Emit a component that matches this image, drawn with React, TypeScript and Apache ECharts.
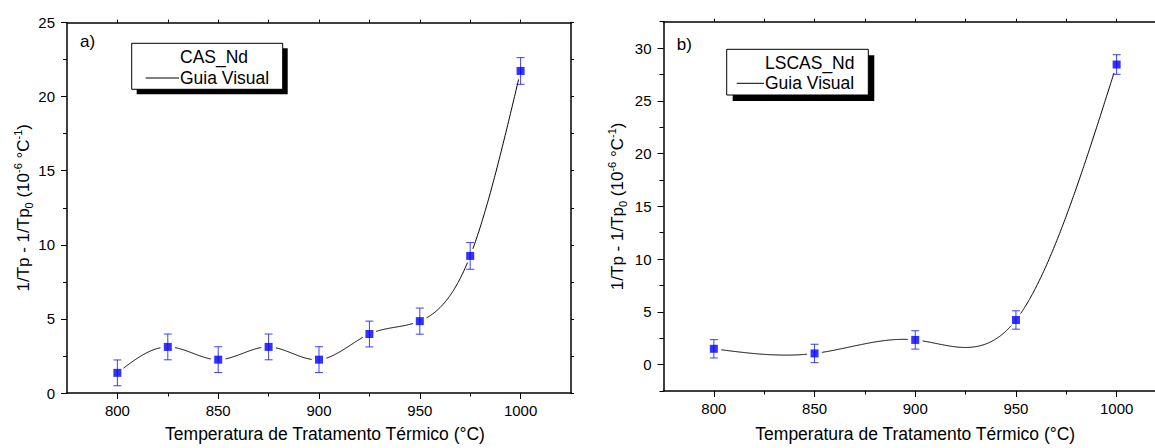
import React, { useEffect, useRef } from "react";
import * as echarts from "echarts";

// ---------- data ----------
const tempsA = [800, 825, 850, 875, 900, 925, 950, 975, 1000];
const valuesA = [1.36, 3.11, 2.25, 3.11, 2.25, 3.98, 4.85, 9.25, 21.73];
const errorsA = [0.87, 0.87, 0.87, 0.87, 0.87, 0.87, 0.88, 0.9, 0.9];

const tempsB = [800, 850, 900, 950, 1000];
const valuesB = [1.5, 1.06, 2.34, 4.23, 28.44];
const errorsB = [0.87, 0.87, 0.87, 0.87, 0.93];

const xMajorTicks = [800, 850, 900, 950, 1000];
const xMinorTicks = [825, 875, 925, 975];
const xFrameTicks = [800, 825, 850, 875, 900, 925, 950, 975, 1000];
const yMajorTicksA = [0, 5, 10, 15, 20, 25];
const yMinorTicksA = [2.5, 7.5, 12.5, 17.5, 22.5];
const yFrameTicksA = [0, 2.5, 5, 7.5, 10, 12.5, 15, 17.5, 20, 22.5, 25];
const yMajorTicksB = [0, 5, 10, 15, 20, 25, 30];
const yMinorTicksB = [-2.5, 2.5, 7.5, 12.5, 17.5, 22.5, 27.5, 32.5];

const xTitle = "Temperatura de Tratamento Térmico (°C)";
const yTitle = "{b|1/Tp - 1/Tp}{s|0}{b| (10}{p|-6}{b| °C}{p|-1}{b|)}";

const FONT = '"Liberation Sans", Arial, sans-serif';
const BLUE = "#0000ff";
const ERR_COLOR = "rgba(30,30,255,0.85)";

// ---------- helpers ----------
function naturalSpline(xs: number[], ys: number[]) {
  const n = xs.length;
  const h: number[] = [];
  for (let i = 0; i < n - 1; i++) h.push(xs[i + 1] - xs[i]);
  const a = new Array(n).fill(0);
  const b = new Array(n).fill(1);
  const c = new Array(n).fill(0);
  const d = new Array(n).fill(0);
  for (let i = 1; i < n - 1; i++) {
    a[i] = h[i - 1];
    b[i] = 2 * (h[i - 1] + h[i]);
    c[i] = h[i];
    d[i] = 6 * ((ys[i + 1] - ys[i]) / h[i] - (ys[i] - ys[i - 1]) / h[i - 1]);
  }
  for (let i = 1; i < n; i++) {
    const m = a[i] / b[i - 1];
    b[i] -= m * c[i - 1];
    d[i] -= m * d[i - 1];
  }
  const M = new Array(n).fill(0);
  M[n - 1] = d[n - 1] / b[n - 1];
  for (let i = n - 2; i >= 0; i--) M[i] = (d[i] - c[i] * M[i + 1]) / b[i];
  return (x: number) => {
    let i = 0;
    while (i < n - 2 && x > xs[i + 1]) i++;
    const hi = h[i];
    const A = xs[i + 1] - x;
    const B = x - xs[i];
    return (
      (M[i] * A * A * A) / (6 * hi) +
      (M[i + 1] * B * B * B) / (6 * hi) +
      (ys[i] / hi - (M[i] * hi) / 6) * A +
      (ys[i + 1] / hi - (M[i + 1] * hi) / 6) * B
    );
  };
}

function curveSeries(xs: number[], ys: number[], xi: number, yi: number) {
  return {
    type: "custom",
    xAxisIndex: xi,
    yAxisIndex: yi,
    silent: true,
    z: 2,
    data: xs.map((x, i) => [x, ys[i]]),
    encode: { x: 0, y: 1 },
    renderItem: (params: any, api: any) => {
      if (params.dataIndex !== 0) return { type: "group", children: [] };
      const f = naturalSpline(xs, ys);
      const centers = xs.map((x, i) => api.coord([x, ys[i]]));
      const GAP = 7;
      const segs: number[][][] = [];
      let cur: number[][] = [];
      const N = 600;
      for (let k = 0; k <= N; k++) {
        const x = xs[0] + ((xs[xs.length - 1] - xs[0]) * k) / N;
        const p = api.coord([x, f(x)]);
        const near = centers.some(
          (c: number[]) => Math.hypot(p[0] - c[0], p[1] - c[1]) < GAP
        );
        if (near) {
          if (cur.length > 1) segs.push(cur);
          cur = [];
        } else cur.push(p);
      }
      if (cur.length > 1) segs.push(cur);
      return {
        type: "group",
        children: segs.map((pts) => ({
          type: "polyline",
          shape: { points: pts },
          style: { stroke: "#000", lineWidth: 1, fill: null },
        })),
      };
    },
  };
}

function errorSeries(xs: number[], ys: number[], es: number[], xi: number, yi: number) {
  return {
    type: "custom",
    xAxisIndex: xi,
    yAxisIndex: yi,
    silent: true,
    z: 3,
    data: xs.map((x, i) => [x, ys[i], es[i]]),
    encode: { x: 0, y: 1 },
    renderItem: (params: any, api: any) => {
      const x = api.value(0);
      const y = api.value(1);
      const e = api.value(2);
      const top = api.coord([x, y + e]);
      const bot = api.coord([x, y - e]);
      const cap = 4;
      const st = { stroke: ERR_COLOR, lineWidth: 1 };
      return {
        type: "group",
        children: [
          { type: "line", shape: { x1: top[0], y1: top[1], x2: bot[0], y2: bot[1] }, style: st },
          { type: "line", shape: { x1: top[0] - cap, y1: top[1], x2: top[0] + cap, y2: top[1] }, style: st },
          { type: "line", shape: { x1: bot[0] - cap, y1: bot[1], x2: bot[0] + cap, y2: bot[1] }, style: st },
        ],
      };
    },
  };
}

function pointSeries(xs: number[], ys: number[], xi: number, yi: number) {
  return {
    type: "scatter",
    xAxisIndex: xi,
    yAxisIndex: yi,
    silent: true,
    z: 4,
    symbol: "rect",
    symbolSize: 8,
    itemStyle: { color: BLUE },
    data: xs.map((x, i) => [x, ys[i]]),
  };
}

const lineStyle = { color: "#000", width: 1.5 };
const tickStyle = { color: "#000", width: 1 };

function baseAxis(grid: number, min: number, max: number, position: string) {
  return {
    type: "value",
    gridIndex: grid,
    min,
    max,
    position,
    splitLine: { show: false },
    axisLine: { show: false, onZero: false, lineStyle },
    axisTick: { show: false },
    axisLabel: { show: false },
  };
}

function majorAxis(
  grid: number, min: number, max: number, position: string, ticks: number[],
  name: string, nameGap: number, margin: number, isY: boolean, padding?: number[]
) {
  const ax: any = baseAxis(grid, min, max, position);
  ax.axisLine = { show: true, onZero: false, lineStyle };
  ax.axisTick = { show: true, inside: false, length: 6, customValues: ticks, lineStyle: tickStyle };
  ax.axisLabel = {
    show: true, customValues: ticks, fontSize: 15, color: "#000", fontFamily: FONT, margin,
    formatter: (v: number) => String(v),
  };
  ax.name = name;
  ax.nameLocation = "middle";
  ax.nameGap = nameGap;
  if (isY) {
    ax.nameTextStyle = {
      color: "#000",
      fontFamily: FONT,
      fontSize: 17,
      rich: {
        b: { fontSize: 17, fontFamily: FONT, color: "#000", lineHeight: 22 },
        p: { fontSize: 11, fontFamily: FONT, color: "#000", lineHeight: 11, verticalAlign: "top" },
        s: { fontSize: 11, fontFamily: FONT, color: "#000", lineHeight: 11, verticalAlign: "bottom" },
      },
    };
  } else {
    ax.nameTextStyle = { color: "#000", fontFamily: FONT, fontSize: 17.5, padding: padding || 0 };
  }
  return ax;
}

function tickAxis(grid: number, min: number, max: number, position: string, ticks: number[], len: number, showLine: boolean) {
  const ax: any = baseAxis(grid, min, max, position);
  ax.axisLine = { show: showLine, onZero: false, lineStyle };
  ax.axisTick = { show: true, inside: false, length: len, customValues: ticks, lineStyle: tickStyle };
  return ax;
}

function legendGraphic(x: number, y: number, w: number, h: number, sh: number, textX: number, lineX1: number, row1: number, row2: number, label: string) {
  const font = { fontSize: 17.5, fontFamily: FONT, fill: "#000", verticalAlign: "middle" };
  return [
    { type: "rect", shape: { x: x + sh, y: y + sh, width: w, height: h }, style: { fill: "#000" }, z: 10 },
    { type: "rect", shape: { x, y, width: w, height: h }, style: { fill: "#fff", stroke: "#000", lineWidth: 1 }, z: 11 },
    { type: "text", x: textX, y: row1, style: { text: label, ...font }, z: 12 },
    { type: "line", shape: { x1: lineX1, y1: row2, x2: textX - 1, y2: row2 }, style: { stroke: "#000", lineWidth: 1 }, z: 12 },
    { type: "text", x: textX, y: row2, style: { text: "Guia Visual", ...font }, z: 12 },
  ];
}

export default function App() {
  const ref = useRef<HTMLDivElement>(null);
  useEffect(() => {
    if (!ref.current) return;
    const chart = echarts.init(ref.current, undefined, { renderer: "svg" });
    const option: any = {
      animation: false,
      backgroundColor: "#fff",
      grid: [
        { left: 67, top: 22.5, width: 504, height: 375.5 },
        { left: 663.5, top: 21.7, width: 503.5, height: 375 },
      ],
      xAxis: [
        majorAxis(0, 775, 1025, "bottom", xMajorTicks, xTitle, 32, 10, false, [0, 0, 0, 12]),
        tickAxis(0, 775, 1025, "bottom", xMinorTicks, 3.5, false),
        tickAxis(0, 775, 1025, "top", xFrameTicks, 3, true),
        majorAxis(1, 775, 1025, "bottom", xMajorTicks, xTitle, 34, 10, false),
        tickAxis(1, 775, 1025, "bottom", xMinorTicks, 3.5, false),
        tickAxis(1, 775, 1025, "top", xFrameTicks, 3, true),
      ],
      yAxis: [
        majorAxis(0, 0, 25, "left", yMajorTicksA, yTitle, 33, 12, true),
        tickAxis(0, 0, 25, "left", yMinorTicksA, 4, false),
        tickAxis(0, 0, 25, "right", yFrameTicksA, 3, true),
        majorAxis(1, -2.5, 32.5, "left", yMajorTicksB, yTitle, 35, 12, true),
        tickAxis(1, -2.5, 32.5, "left", yMinorTicksB, 4, false),
        tickAxis(1, -2.5, 32.5, "right", yMinorTicksB, 3, true),
      ],
      series: [
        curveSeries(tempsA, valuesA, 0, 0),
        errorSeries(tempsA, valuesA, errorsA, 0, 0),
        pointSeries(tempsA, valuesA, 0, 0),
        curveSeries(tempsB, valuesB, 3, 3),
        errorSeries(tempsB, valuesB, errorsB, 3, 3),
        pointSeries(tempsB, valuesB, 3, 3),
      ],
      graphic: [
        { type: "text", x: 80, y: 41.7, style: { text: "a)", fontSize: 17, fontFamily: FONT, fill: "#000", verticalAlign: "middle" } },
        { type: "text", x: 676.7, y: 44.3, style: { text: "b)", fontSize: 17, fontFamily: FONT, fill: "#000", verticalAlign: "middle" } },
        ...legendGraphic(131.7, 43.3, 151, 46, 5, 180, 145.7, 57, 78, "CAS_Nd"),
        ...legendGraphic(726.7, 49.3, 141.6, 45.7, 6, 765, 736.7, 62.7, 83.3, "LSCAS_Nd"),
      ],
    };
    chart.setOption(option);
    return () => chart.dispose();
  }, []);
  return (
    <div style={{ position: "fixed", left: 0, top: 0, width: 1155, height: 448, overflow: "hidden", background: "#fff" }}>
      <div ref={ref} style={{ width: 1185, height: 448 }} />
    </div>
  );
}
